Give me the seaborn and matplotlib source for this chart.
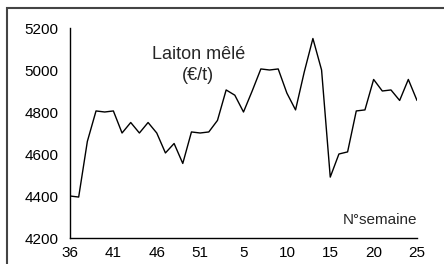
import matplotlib
matplotlib.use('Agg')
import matplotlib.pyplot as plt
import seaborn as sns
import pandas as pd
from matplotlib.patches import Rectangle

# weekly price, brass scrap (EUR/t), week 36 -> week 25
semaine_idx = list(range(41))
prix = [4400, 4395, 4660, 4805, 4800, 4805, 4700, 4750, 4700, 4750,
        4700, 4605, 4650, 4555, 4705, 4700, 4705, 4760, 4905, 4880,
        4800, 4900, 5005, 5000, 5005, 4890, 4810, 4990, 5150, 5000,
        4490, 4600, 4610, 4805, 4810, 4955, 4900, 4905, 4855, 4955,
        4855]
tick_pos = [0, 5, 10, 15, 20, 25, 30, 35, 40]
tick_labels = ['36', '41', '46', '51', '5', '10', '15', '20', '25']
y_ticks = [4200, 4400, 4600, 4800, 5000, 5200]

df = pd.DataFrame({'idx': semaine_idx, 'prix': prix})

sns.set_style('white')
plt.rcParams['font.family'] = ['Liberation Sans', 'DejaVu Sans']

fig = plt.figure(figsize=(4.44, 2.64), dpi=100)
ax = fig.add_axes([70/444, 1 - 238/264, (417-70)/444, (238-28)/264])

sns.lineplot(data=df, x='idx', y='prix', color='black', linewidth=1.0, ax=ax)

ax.set_xlim(0, 40)
ax.set_ylim(4200, 5200)
ax.set_xticks(tick_pos)
ax.set_xticklabels(tick_labels)
ax.set_yticks(y_ticks)
ax.set_xlabel('')
ax.set_ylabel('')
ax.tick_params(direction='inout', length=7, width=1, labelsize=11, colors='black', pad=2)
ax.tick_params(axis='y', pad=5)
for s in ['top', 'right']:
    ax.spines[s].set_visible(False)
for s in ['left', 'bottom']:
    ax.spines[s].set_color('black')
    ax.spines[s].set_linewidth(1)

# chart labels
ax.text(14.8, 5075, 'Laiton mêlé', ha='center', va='center', fontsize=13)
ax.text(14.8, 4975, '(€/t)', ha='center', va='center', fontsize=13)
ax.text(40, 4285, 'N°semaine', ha='right', va='center', fontsize=11)

# outer frame
fig.patches.append(Rectangle((7/444, -0.1), 1.1, 1 - 8/264 + 0.1, transform=fig.transFigure,
                             fill=False, edgecolor='#444444', linewidth=1.5))

fig.savefig('out.png', dpi=100)
